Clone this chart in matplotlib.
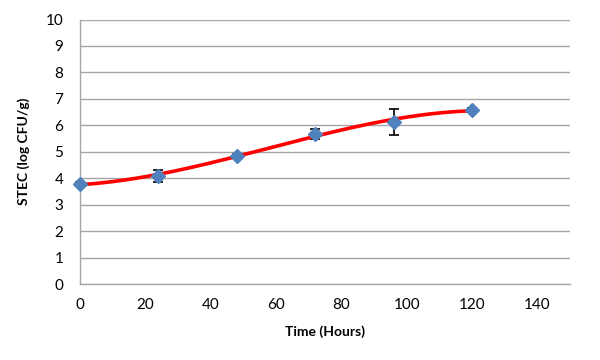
import numpy as np
import matplotlib.pyplot as plt

plt.rcParams['font.family'] = ['Lato', 'DejaVu Sans']

# data
hours = [0, 24, 48, 72, 96, 120]
stec = [3.78, 4.08, 4.85, 5.67, 6.13, 6.58]
err = [0.08, 0.22, 0.08, 0.18, 0.48, 0.07]

x_ticks = [0, 20, 40, 60, 80, 100, 120, 140]
y_ticks = list(range(0, 11))

# polynomial trendline (order 3) over the measured points
coef = np.polyfit(hours, stec, 3)
xs = np.linspace(hours[0], hours[-1], 200)
ys = np.polyval(coef, xs)

fig = plt.figure(figsize=(6, 3.6), dpi=100)
ax = fig.add_axes([0.1333, 0.2111, 0.8167, 0.7347])

eb = ax.errorbar(hours, stec, yerr=err, fmt='none', ecolor='black',
                 elinewidth=1.2, capsize=3.5, capthick=1.2, zorder=3)
for artist in eb.lines[1] + eb.lines[2]:
    artist.set_clip_on(False)
ax.plot(xs, ys, color='#ff0000', lw=2.6, zorder=4, clip_on=False)
ax.plot(hours, stec, linestyle='none', marker='D', markersize=7,
        color='#4f81bd', zorder=5, clip_on=False)

ax.set_xlim(0, 150)
ax.set_ylim(0, 10)
ax.set_xticks(x_ticks)
ax.set_yticks(y_ticks)
ax.grid(axis='y', color='#a6a6a6', lw=1)
ax.set_axisbelow(True)
for s in ['top', 'right']:
    ax.spines[s].set_visible(False)
for s in ['left', 'bottom']:
    ax.spines[s].set_color('#a6a6a6')
    ax.spines[s].set_linewidth(1)
ax.tick_params(axis='both', length=0, labelsize=11, colors='black')
ax.tick_params(axis='y', pad=12)
ax.tick_params(axis='x', pad=10)

ax.set_xlabel('Time (Hours)', fontsize=10, fontweight='bold', labelpad=10)
ax.set_ylabel('STEC (log CFU/g)', fontsize=10, fontweight='bold', labelpad=11)

fig.savefig('out.png', dpi=100)
